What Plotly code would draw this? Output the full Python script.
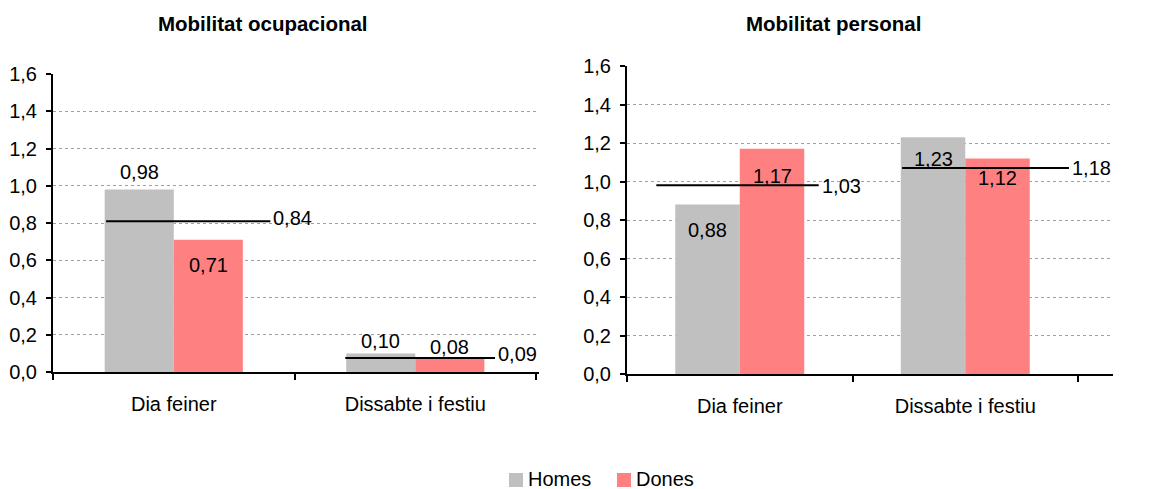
import plotly.graph_objects as go

# data
categories = ["Dia feiner", "Dissabte i festiu"]
titles = ["Mobilitat ocupacional", "Mobilitat personal"]
series_names = ["Homes", "Dones"]

homes_ocup = [0.98, 0.10]
dones_ocup = [0.71, 0.08]
total_ocup = [0.84, 0.09]
total_line_ocup = [0.81, 0.075]  # level where the black line is drawn

homes_pers = [0.88, 1.23]
dones_pers = [1.17, 1.12]
total_pers = [1.03, 1.18]
total_line_pers = [0.98, 1.07]

y_ticks = [0.0, 0.2, 0.4, 0.6, 0.8, 1.0, 1.2, 1.4, 1.6]

colours = ["#C0C0C0", "#FF8080"]
FONT = "Arial, Liberation Sans, sans-serif"
FS = 20
W, H = 1158, 489
OFF = 8  # page body margin, positions below are screen pixels


def fmt(v):
    return f"{v:.2f}".replace(".", ",")


def px(x):
    return (x - OFF) / W


def py(y):
    return 1 - (y - OFF) / H


panels = [
    dict(homes=homes_ocup, dones=dones_ocup, total=total_ocup, level=total_line_ocup,
         ax="", x0=53, x1=539, top=74, bottom=372, title_x=263,
         # label vertical shifts (px) for homes / dones bars
         shift=[[17, 12], [-25, 10]],
         line_ext=[(-0.28, 0.40), (-0.29, 0.33)], total_shift=[3, 4]),
    dict(homes=homes_pers, dones=dones_pers, total=total_pers, level=total_line_pers,
         ax="2", x0=627, x1=1113, top=66, bottom=374, title_x=833,
         shift=[[-25, -22], [-27, -20]],
         line_ext=[(-0.37, 0.35), (-0.28, 0.46)], total_shift=[-1, 0]),
]

fig = go.Figure()
annotations = []
shapes = []
half = 0.143

for p_i, p in enumerate(panels):
    xa, ya = "x" + p["ax"], "y" + p["ax"]
    for s_i, (name, vals) in enumerate(zip(series_names, [p["homes"], p["dones"]])):
        fig.add_trace(go.Bar(
            x=categories, y=vals, name=name, marker=dict(color=colours[s_i], line_width=0),
            xaxis=xa, yaxis=ya, showlegend=False, hoverinfo="skip",
        ))
        side = -1 if s_i == 0 else 1
        for c_i, v in enumerate(vals):
            annotations.append(dict(
                x=c_i + side * half, y=v, xref=xa, yref=ya, text=fmt(v),
                showarrow=False, xanchor="center", yanchor="middle",
                yshift=p["shift"][s_i][c_i], font=dict(size=FS, color="#000000"),
            ))
    for c_i, (tot, lev) in enumerate(zip(p["total"], p["level"])):
        a, b = p["line_ext"][c_i]
        shapes.append(dict(type="line", xref=xa, yref=ya, x0=c_i + a, x1=c_i + b,
                           y0=lev, y1=lev, line=dict(color="#000000", width=2)))
        annotations.append(dict(
            x=c_i + b, y=lev, xref=xa, yref=ya, text=fmt(tot), showarrow=False,
            xanchor="left", yanchor="middle", xshift=1, yshift=p["total_shift"][c_i],
            font=dict(size=FS, color="#000000"),
        ))
    annotations.append(dict(
        x=px(p["title_x"]), y=py(24), xref="paper", yref="paper",
        xanchor="center", yanchor="middle",
        text="<b>" + titles[p_i] + "</b>",
        showarrow=False, font=dict(size=20.5, color="#000000"),
    ))

# legend: colour square followed by the series name
legend_x = [509, 617]
for name, col, lx in zip(series_names, colours, legend_x):
    shapes.append(dict(type="rect", xref="paper", yref="paper",
                       x0=px(lx), x1=px(lx + 14), y0=py(487), y1=py(473),
                       fillcolor=col, line_width=0))
    annotations.append(dict(x=px(lx + 17), y=py(479), xref="paper", yref="paper",
                            text=name, showarrow=False, xanchor="left", yanchor="middle",
                            font=dict(size=FS, color="#000000")))

axis_common = dict(showline=True, linecolor="#000000", linewidth=2, ticks="outside",
                   tickwidth=2, tickcolor="#000000", zeroline=False, automargin=False)

layout = dict(
    template="none",
    width=W, height=H, autosize=False,
    margin=dict(l=0, r=0, t=0, b=0, pad=0),
    paper_bgcolor="#FFFFFF", plot_bgcolor="#FFFFFF",
    font=dict(family=FONT, size=FS, color="#000000"),
    separators=",.",
    barmode="group", bargap=0.428, bargroupgap=0,
    showlegend=False,
    annotations=annotations, shapes=shapes,
)

for p in panels:
    layout["xaxis" + p["ax"]] = dict(
        axis_common, domain=[px(p["x0"]), px(p["x1"])], anchor="y" + p["ax"],
        type="category", tickson="boundaries", ticklen=6, showgrid=False,
        ticklabelstandoff=13, tickfont=dict(size=FS),
    )
    layout["yaxis" + p["ax"]] = dict(
        axis_common, domain=[py(p["bottom"]), py(p["top"])], anchor="x" + p["ax"],
        range=[0, 1.6], tickvals=y_ticks, tickformat=".1f", ticklen=5,
        showgrid=True, gridcolor="#A0A0A0", gridwidth=1, griddash="dot",
        ticklabelstandoff=5, tickfont=dict(size=FS),
    )

fig.update_layout(layout)
fig.write_html("out.html")
